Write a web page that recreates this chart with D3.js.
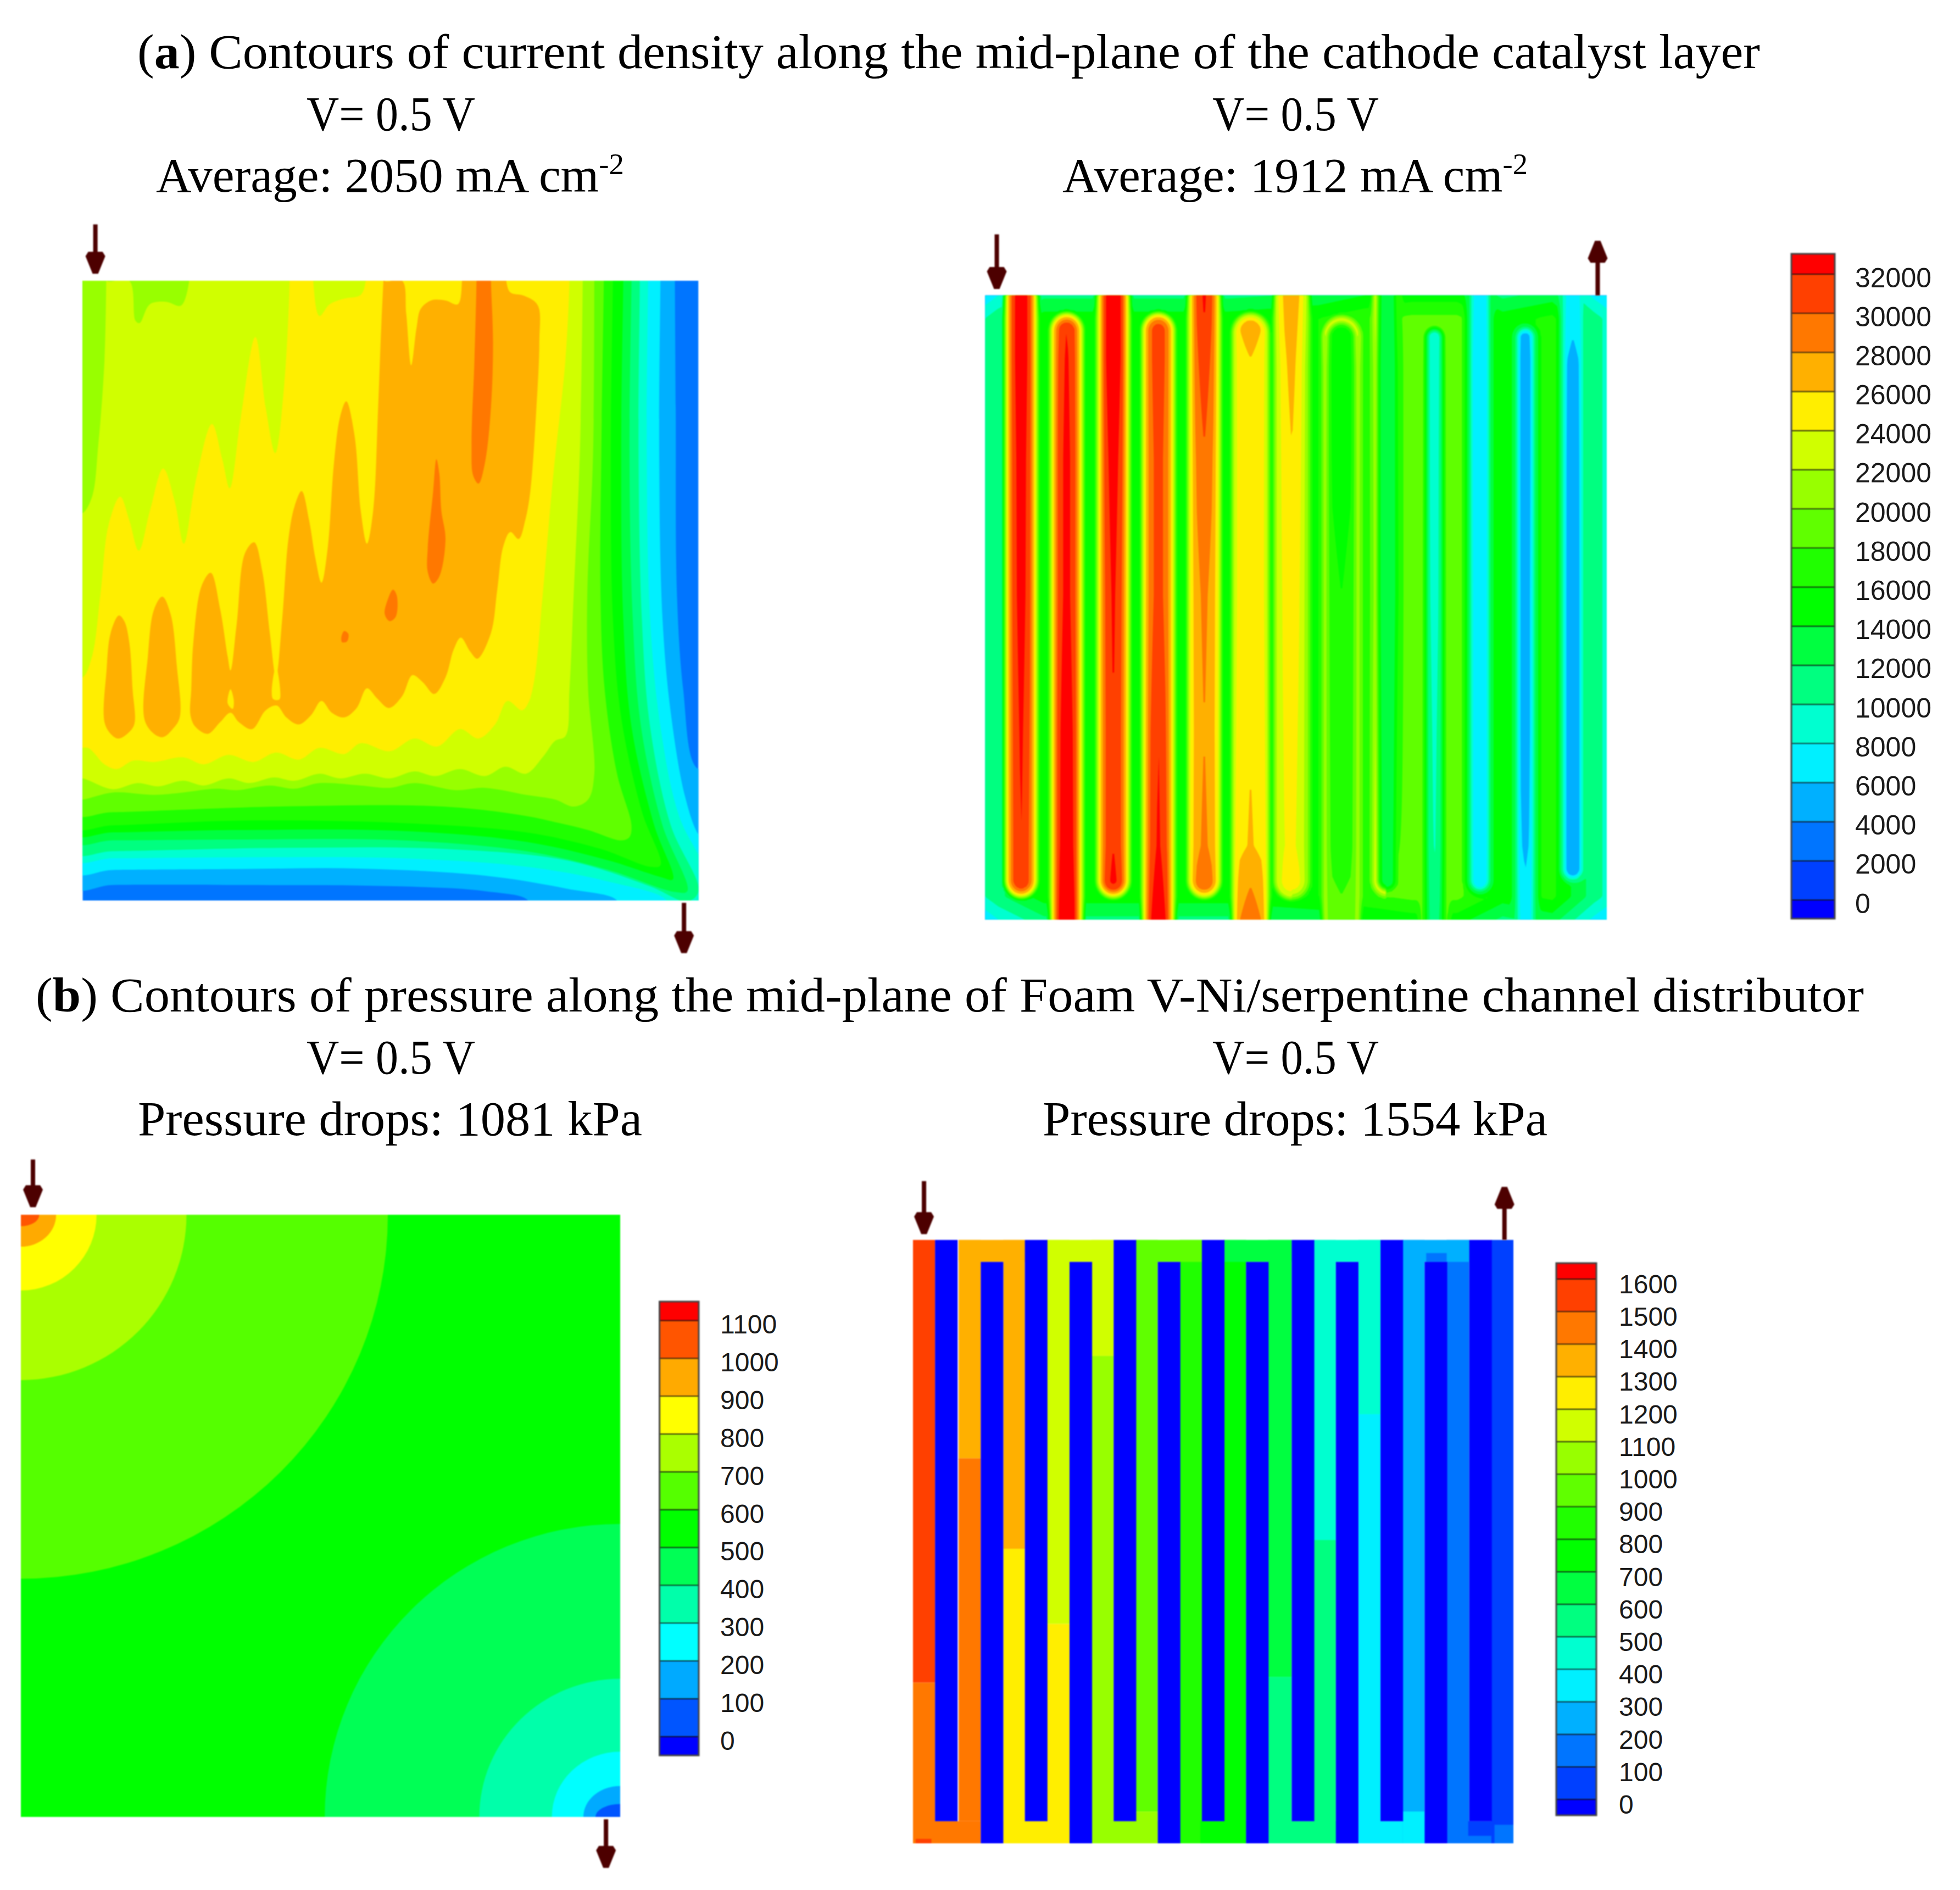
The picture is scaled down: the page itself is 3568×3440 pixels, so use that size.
<!DOCTYPE html>
<html lang="en">
  <head>
    <meta charset="UTF-8" />
    <title>Contours of current density and pressure</title>
    <script src="https://cdn.jsdelivr.net/npm/d3@7"></script>
    <style>
      html, body { margin: 0; background: #fff; }
      svg { display: block; }
      .soft { filter: blur(1px); }
    </style>
  </head>

  <body>
    <div id="chart"></div>

    <script>
      // ---- legend levels ----
      const currentTicks = [0, 2000, 4000, 6000, 8000, 10000, 12000, 14000, 16000, 18000, 20000, 22000, 24000, 26000, 28000, 30000, 32000];
      const wideTicks = [0, 100, 200, 300, 400, 500, 600, 700, 800, 900, 1000, 1100, 1200, 1300, 1400, 1500, 1600];
      const foamTicks = [0, 100, 200, 300, 400, 500, 600, 700, 800, 900, 1000, 1100];
      const rainbow18 = ["#0000ff", "#0040ff", "#0075ff", "#00b0ff", "#00f0ff", "#00ffd0", "#00ff80", "#00ff40", "#00ff00", "#20ff00", "#60ff00", "#98ff00", "#d0ff00", "#ffee00", "#ffb000", "#ff7800", "#ff4000", "#ff0000"];
      const rainbow13 = ["#0000ff", "#0055ff", "#00aaff", "#00ffff", "#00ffaa", "#00ff55", "#00ff00", "#55ff00", "#aaff00", "#ffff00", "#ffaa00", "#ff5500", "#ff0000"];

      // ---- (a) foam, left: iso-lines, x/y in digitiser units ----
      const foamRegionLevels = [4000, 6000, 8000, 10000, 12000, 14000, 16000, 18000, 20000, 22000, 24000, 26000, 26000, 26000, 24000, 24000, 28000, 28000, 28000, 28000];
      const foamRegionLines = [
        [[0,100],[1460,100],[1460,130],[1462,400],[1465,800],[1480,1000],[1510,1165],[1550,1180],[1550,1480],[1105,1480],[1105,1450],[1000,1430],[800,1420],[400,1417],[100,1417],[0,1420]],
        [[0,100],[1425,100],[1425,130],[1422,500],[1430,850],[1450,1050],[1485,1230],[1517,1310],[1550,1340],[1550,1480],[1320,1480],[1320,1450],[1200,1425],[1000,1397],[700,1382],[400,1383],[100,1385],[0,1387]],
        [[0,100],[1395,100],[1395,130],[1392,500],[1400,850],[1425,1080],[1470,1270],[1540,1400],[1540,1480],[1440,1480],[1440,1450],[1300,1410],[1100,1378],[800,1360],[400,1358],[100,1360],[0,1360]],
        [[0,100],[1375,100],[1375,130],[1372,500],[1380,850],[1400,1080],[1450,1290],[1517,1430],[1490,1452],[1400,1420],[1200,1365],[900,1340],[500,1338],[100,1345],[0,1345]],
        [[0,100],[1355,100],[1355,130],[1350,500],[1358,850],[1378,1080],[1430,1290],[1490,1430],[1460,1432],[1300,1385],[1100,1345],[800,1322],[400,1320],[100,1322],[0,1322]],
        [[0,100],[1335,100],[1335,130],[1330,500],[1335,850],[1355,1080],[1410,1290],[1455,1405],[1425,1400],[1300,1365],[1100,1325],[800,1302],[400,1300],[100,1305],[0,1305]],
        [[0,100],[1310,100],[1310,130],[1305,500],[1310,850],[1330,1060],[1380,1260],[1425,1375],[1400,1378],[1280,1340],[1100,1305],[800,1285],[400,1280],[100,1290],[0,1290]],
        [[0,100],[1288,100],[1288,130],[1282,500],[1280,800],[1290,1000],[1320,1180],[1355,1290],[1350,1315],[1330,1322],[1250,1300],[1180,1285],[1100,1270],[900,1250],[500,1250],[100,1262],[0,1262]],
        [[0,100],[1265,100],[1265,130],[1262,500],[1248,800],[1250,1000],[1265,1180],[1250,1235],[1215,1250],[1170,1235],[1100,1225],[1000,1210],[930,1215],[830,1200],[770,1210],[700,1205],[600,1200],[540,1212],[480,1205],[400,1215],[350,1212],[270,1220],[200,1225],[100,1220],[27,1235],[0,1235]],
        [[85,100],[85,130],[140,130],[155,215],[165,220],[190,180],[230,175],[265,183],[285,130],[285,100],[1237,100],[1237,130],[1230,500],[1215,800],[1205,1000],[1195,1100],[1170,1110],[1140,1145],[1100,1180],[1050,1165],[1000,1185],[940,1170],[880,1185],[830,1175],[770,1190],[710,1180],[650,1190],[600,1180],[540,1195],[490,1188],[430,1200],[380,1190],[320,1205],[270,1195],[210,1207],[160,1200],[100,1213],[27,1190],[0,1190],[0,625],[27,625],[50,590],[65,480],[80,300]],
        [[0,975],[27,975],[50,930],[70,800],[90,650],[118,590],[140,640],[163,705],[190,620],[222,530],[250,600],[272,690],[300,560],[340,435],[365,510],[383,572],[410,420],[445,250],[470,400],[493,497],[515,350],[528,130],[528,100],[585,100],[585,130],[600,205],[625,180],[660,168],[700,160],[712,130],[712,100],[1205,100],[1205,130],[1195,300],[1165,550],[1140,800],[1120,980],[1105,1030],[1090,1045],[1055,1025],[1025,1075],[985,1105],[940,1085],[885,1122],[830,1105],[770,1132],[700,1115],[660,1138],[600,1125],[550,1150],[495,1135],[440,1155],[380,1140],[320,1160],[270,1145],[200,1155],[150,1152],[110,1170],[80,1160],[40,1125],[0,1125]],
        [[115,843],[95,880],[85,960],[80,1070],[95,1095],[113,1105],[135,1095],[152,1075],[148,1000],[140,900],[128,855]],
        [[220,803],[200,830],[185,930],[177,1065],[200,1095],[222,1102],[245,1085],[262,1060],[255,950],[240,840]],
        [[757,100],[757,130],[800,130],[810,200],[822,310],[835,230],[845,190],[870,172],[905,172],[935,180],[945,130],[945,100],[1052,100],[1052,130],[1062,155],[1095,162],[1128,182],[1132,260],[1125,400],[1110,580],[1098,640],[1082,680],[1062,665],[1045,695],[1030,790],[1015,880],[982,935],[965,920],[942,890],[925,915],[905,975],[878,1010],[850,985],[825,970],[800,1015],[768,1040],[740,1020],[715,998],[690,1040],[660,1060],[630,1050],[605,1025],[580,1055],[550,1075],[520,1060],[497,1035],[470,1045],[437,1085],[405,1070],[385,1050],[360,1070],[330,1095],[300,1080],[288,1055],[290,1000],[295,900],[315,780],[337,752],[360,830],[378,930],[385,960],[400,860],[420,710],[442,687],[462,750],[480,880],[495,975],[510,850],[525,680],[540,610],[557,578],[575,640],[590,720],[605,773],[620,700],[635,520],[650,420],[665,387],[685,460],[700,620],[715,690],[730,620],[742,400],[750,220]],
        [[385,1000],[378,1030],[390,1042],[393,1025]],
        [[495,950],[487,1020],[503,1022],[505,1000]],
        [[980,100],[1015,100],[1015,130],[1020,260],[1015,400],[1000,520],[985,562],[972,545],[968,480],[975,300],[980,130]],
        [[883,510],[875,580],[862,700],[862,750],[875,775],[890,760],[905,680],[895,620],[890,540]],
        [[778,788],[765,810],[758,840],[770,855],[785,845],[787,800]],
        [[660,876],[653,890],[655,900],[667,898],[670,882]],
      ];
      const foamCurrentBase = 3000;

      // ---- (a) serpentine, right: current along each rib/channel stripe ----
      const stripeCentre = [105, 215, 328, 437, 548, 660, 760, 880, 990, 1105, 1215, 1325, 1440];
      const stripeEnd = [1425, 220, 1425, 220, 1425, 225, 1425, 235, 1425, 235, 1425, 235, 1400];
      const coreStations = [142, 280, 500, 800, 1100, 1350, 1512];
      const stripeCore = [
        [34000, 34000, 33500, 33300, 32500, 32000, 32000],
        [31500, 32500, 33000, 33000, 34000, 34200, 35000],
        [34500, 34500, 33500, 32500, 32000, 32000, 34000],
        [31500, 31500, 31000, 31000, 32000, 32500, 34500],
        [32500, 31500, 29800, 28500, 28000, 28500, 31500],
        [28500, 26000, 25700, 25700, 25900, 26200, 29500],
        [27500, 26800, 25900, 25200, 24800, 24500, 26500],
        [15000, 14800, 15000, 16000, 16500, 17000, 18500],
        [12500, 12000, 12000, 12000, 12500, 13000, 13000],
        [8000, 8500, 8800, 9000, 9500, 9800, 11000],
        [7000, 6300, 6300, 6500, 6500, 6500, 7000],
        [6000, 4800, 4800, 5000, 5000, 5500, 7000],
        [7000, 5500, 4800, 4500, 4500, 4500, 5000],
      ];
      const ringStations = [142, 300, 800, 1512];
      const stripeRing = [
        [25000, 25000, 25000, 25000],
        [25000, 25000, 25000, 25000],
        [25000, 25000, 25000, 25000],
        [25000, 25000, 25000, 25000],
        [24500, 24500, 24500, 24500],
        [23000, 23000, 23000, 24000],
        [23500, 22500, 22500, 22500],
        [24500, 21500, 21000, 21000],
        [23000, 21500, 21000, 23500],
        [20500, 19500, 19000, 18500],
        [13000, 13000, 13000, 13000],
        [12000, 12000, 12000, 12000],
        [10000, 10000, 10000, 10000],
      ];
      // the ring on the right of a stripe is weaker than on its left for these
      const ringRightDrop = [0, 0, 0, 0, 0, 0, 1500, 0, 5000, 0, 0, 0, 0];
      const stripeCoreHalf = [20, 20, 20, 20, 20, 28, 20, 24, 14, 12, 15, 12, 14];
      const stripeRingHalf = [33, 33, 33, 33, 33, 38, 36, 40, 28, 30, 28, 24, 24];
      const gapX = [18, 50, 160, 270, 380, 490, 605, 715, 825, 935, 1050, 1160, 1270, 1390, 1490, 1522];
      const gapCurrent = [10000, 11500, 15000, 15000, 15000, 15000, 15000, 15500, 16000, 17500, 18500, 18500, 15000, 16500, 11000, 9500];
      const endWallDrop = [3500, 0];

      // ---- (b) foam, left: iso-pressure arcs around inlet and outlet corners ----
      const inletPressure = [650, 750, 850, 950, 1050];
      const inletReachX = [698, 315, 144, 67, 35];
      const inletReachY = [764, 347, 159, 67, 24];
      const outletPressure = [450, 350, 250, 150, 50];
      const outletReachX = [562, 268, 130, 70, 47];
      const outletReachY = [615, 290, 137, 65, 27];
      const foamPressureBase = 550;

      // ---- (b) serpentine, right: ribs and channel pressure ----
      const ribTopX = [65, 236, 405, 573, 744, 913, 1082];
      const ribBottomX = [152, 321, 489, 657, 828, 997];
      const ribWidth = 43;
      const ribPressure = -10;
      // [x0, x1, y0, y1, kPa], later cells paint over earlier ones
      const channelCells = [
        [23, 65, 145, 1148, 1550], [23, 65, 1148, 1512, 1450], [23, 152, 1462, 1512, 1450], [28, 58, 1502, 1512, 1550],
        [110, 152, 145, 640, 1350], [110, 152, 640, 1462, 1450], [110, 236, 145, 195, 1350],
        [195, 236, 145, 845, 1350], [195, 236, 845, 1512, 1250], [195, 321, 1462, 1512, 1250],
        [278, 321, 145, 1015, 1150], [278, 321, 1015, 1512, 1250], [278, 405, 145, 195, 1150],
        [363, 405, 145, 408, 1150], [363, 405, 408, 1512, 1050], [363, 489, 1462, 1512, 1050],
        [447, 489, 145, 1440, 950], [447, 489, 1440, 1512, 1050],
        [531, 573, 145, 1512, 850], [447, 573, 145, 195, 950], [531, 657, 1462, 1512, 850], [570, 657, 1462, 1512, 750],
        [615, 657, 145, 1512, 750], [615, 744, 145, 195, 650],
        [699, 744, 145, 1135, 650], [699, 744, 1135, 1512, 550], [699, 828, 1462, 1512, 550],
        [786, 828, 145, 825, 450], [786, 828, 825, 1512, 550], [786, 913, 145, 195, 450],
        [871, 913, 145, 540, 450], [871, 913, 540, 1512, 350], [871, 997, 1462, 1512, 350],
        [955, 997, 145, 1512, 250], [955, 997, 1440, 1512, 350],
        [1039, 1082, 145, 1512, 150], [955, 1082, 145, 195, 250], [1000, 1039, 175, 195, 150],
        [1039, 1166, 1462, 1512, 150], [1080, 1124, 1462, 1495, 50],
        [1124, 1166, 145, 1512, 50], [1130, 1166, 1470, 1512, 150],
      ];

      const width = 3568,
        height = 3440;

      const svg = d3
        .select("#chart")
        .append("svg")
        .attr("width", width)
        .attr("height", height);

      const serif = "'Liberation Serif', serif";

      // text squeezed onto the span it has in the figure
      function heading(parts, x0, x1, baseline) {
        const t = svg
          .append("text")
          .attr("x", x0)
          .attr("y", baseline)
          .attr("textLength", x1 - x0)
          .attr("lengthAdjust", "spacingAndGlyphs")
          .attr("font-family", serif)
          .attr("font-size", 88)
          .attr("fill", "#000");
        parts.forEach((p) => {
          const s = t.append("tspan").text(p.text);
          if (p.bold) s.attr("font-weight", "bold");
          if (p.sup) s.attr("font-size", 54).attr("dy", -32);
        });
      }

      heading([{ text: "(" }, { text: "a", bold: true }, { text: ") Contours of current density along the mid-plane of the cathode catalyst layer" }], 250, 3204, 124);
      heading([{ text: "V= 0.5 V" }], 558, 865, 237);
      heading([{ text: "Average: 2050 mA cm" }, { text: "-2", sup: true }], 284, 1136, 349);
      heading([{ text: "V= 0.5 V" }], 2207, 2510, 237);
      heading([{ text: "Average: 1912 mA cm" }, { text: "-2", sup: true }], 1934, 2781, 349);

      heading([{ text: "(" }, { text: "b", bold: true }, { text: ") Contours of pressure along the mid-plane of Foam V-Ni/serpentine channel distributor" }], 65, 3393, 1841);
      heading([{ text: "V= 0.5 V" }], 558, 865, 1954);
      heading([{ text: "Pressure drops: 1081 kPa" }], 251, 1169, 2066);
      heading([{ text: "V= 0.5 V" }], 2207, 2510, 1954);
      heading([{ text: "Pressure drops: 1554 kPa" }], 1898, 2817, 2066);

      const currentColor = d3.scaleThreshold().domain(currentTicks).range(rainbow18);
      const wideColor = d3.scaleThreshold().domain(wideTicks).range(rainbow18);
      const foamColor = d3.scaleThreshold().domain(foamTicks).range(rainbow13);

      // a clipped, slightly softened plot area
      function plotArea(id, x, y) {
        const [x0, x1] = x.range();
        const [y0, y1] = y.range();
        svg
          .append("clipPath")
          .attr("id", id)
          .append("rect")
          .attr("x", x0)
          .attr("y", y0)
          .attr("width", x1 - x0)
          .attr("height", y1 - y0);
        return svg
          .append("g")
          .attr("class", "soft")
          .append("g")
          .attr("clip-path", "url(#" + id + ")");
      }

      function arrow(x, y, xPos, yFrom, yTo) {
        const xp = x(xPos),
          from = y(yFrom),
          to = y(yTo),
          dir = to > from ? 1 : -1;
        const g = svg.append("g").attr("fill", "#4d0000").attr("class", "soft");
        g.append("rect")
          .attr("x", xp - 4)
          .attr("y", Math.min(from, to - dir * 30))
          .attr("width", 8)
          .attr("height", Math.abs(to - dir * 30 - from));
        g.append("path").attr(
          "d",
          d3.line()([
            [xp - 5, to],
            [xp + 5, to],
            [xp + 18, to - dir * 32],
            [xp + 13, to - dir * 40],
            [xp - 13, to - dir * 40],
            [xp - 18, to - dir * 32],
          ]) + "Z"
        );
      }

      // ---------------- (a) left ----------------
      {
        const x = d3.scaleLinear().domain([27, 1517]).range([150.3, 1271.5]);
        const y = d3.scaleLinear().domain([130, 1450]).range([511, 1639]);
        const g = plotArea("clipAL", x, y);
        g.append("rect")
          .attr("x", x(27))
          .attr("y", y(130))
          .attr("width", x(1517) - x(27))
          .attr("height", y(1450) - y(130))
          .attr("fill", currentColor(foamCurrentBase));
        const line = d3
          .line()
          .x((d) => x(d[0]))
          .y((d) => y(d[1]))
          .curve(d3.curveCatmullRomClosed.alpha(0.5));
        g.selectAll("path")
          .data(foamRegionLines)
          .enter()
          .append("path")
          .attr("d", line)
          .attr("fill", (d, i) => currentColor(foamRegionLevels[i]));
        arrow(x, y, 58, 10, 115);
        arrow(x, y, 1482, 1455, 1562);
      }

      // ---------------- (a) right ----------------
      {
        const x = d3.scaleLinear().domain([18, 1522]).range([1793.5, 2925]);
        const y = d3.scaleLinear().domain([142, 1512]).range([537.7, 1673.7]);
        const g = plotArea("clipAR", x, y);

        const nx = 377,
          ny = 343;
        const sx = d3.scaleLinear().domain([0, nx - 1]).range([18, 1522]);
        const sy = d3.scaleLinear().domain([0, ny - 1]).range([142, 1512]);
        const coreAt = stripeCore.map((c) => d3.scaleLinear().domain(coreStations).range(c).clamp(true));
        const ringAt = stripeRing.map((c) => d3.scaleLinear().domain(ringStations).range(c).clamp(true));
        const gapAt = d3.scaleLinear().domain(gapX).range(gapCurrent);
        const wallDrop = d3.scaleLinear().domain([0, 50]).range(endWallDrop).clamp(true);

        const values = new Float64Array(nx * ny);
        for (let j = 0; j < ny; j++) {
          const py = sy(j);
          const drop = wallDrop(Math.min(py - 142, 1512 - py));
          for (let i = 0; i < nx; i++) {
            const px = sx(i);
            let best = 0,
              bestD = Infinity;
            stripeCentre.forEach((c, k) => {
              // even stripes run in from the top wall, odd ones from the bottom wall
              const yA = k % 2 === 0 ? -400 : stripeEnd[k];
              const yB = k % 2 === 0 ? stripeEnd[k] : 2000;
              const dy = py - Math.max(yA, Math.min(yB, py));
              const d = Math.hypot(px - c, dy);
              if (d < bestD) {
                bestD = d;
                best = k;
              }
            });
            const core = coreAt[best](py),
              ring = ringAt[best](py) - (px > stripeCentre[best] ? ringRightDrop[best] : 0),
              gap = gapAt(px) - drop,
              a = stripeCoreHalf[best],
              b = stripeRingHalf[best],
              c = b + 14,
              taper = core > ring ? 0.3 : 0.12,
              edge = core + (ring - core) * taper;
            let v;
            if (bestD <= a) v = core + ((edge - core) * bestD) / a;
            else if (bestD <= b) v = edge + ((ring - edge) * (bestD - a)) / (b - a);
            else if (bestD <= c) v = ring + ((gap - ring) * (bestD - b)) / (c - b);
            else v = gap;
            values[j * nx + i] = v;
          }
        }

        const gx = d3.scaleLinear().domain([0.5, nx - 0.5]).range(x.range());
        const gy = d3.scaleLinear().domain([0.5, ny - 0.5]).range(y.range());
        const path = d3.geoPath(
          d3.geoTransform({
            point: function (a, b) {
              this.stream.point(gx(a), gy(b));
            },
          })
        );
        const bands = d3.contours().size([nx, ny]).thresholds(currentTicks)(values);
        g.append("rect")
          .attr("x", x(18))
          .attr("y", y(142))
          .attr("width", x(1522) - x(18))
          .attr("height", y(1512) - y(142))
          .attr("fill", currentColor(foamCurrentBase));
        g.selectAll("path")
          .data(bands)
          .enter()
          .append("path")
          .attr("d", path)
          .attr("fill", (d) => currentColor(d.value));
        arrow(x, y, 46, 8, 128);
        arrow(x, y, 1500, 142, 22);
      }

      // ---------------- (b) left ----------------
      {
        const x = d3.scaleLinear().domain([40, 1180]).range([38, 1129]);
        const y = d3.scaleLinear().domain([151, 1415]).range([2211, 3307]);
        const g = plotArea("clipBL", x, y);
        g.append("rect")
          .attr("x", x(40))
          .attr("y", y(151))
          .attr("width", x(1180) - x(40))
          .attr("height", y(1415) - y(151))
          .attr("fill", foamColor(foamPressureBase));
        inletPressure.forEach((p, i) => {
          g.append("ellipse")
            .attr("cx", x(40))
            .attr("cy", y(151))
            .attr("rx", x(40 + inletReachX[i]) - x(40))
            .attr("ry", y(151 + inletReachY[i]) - y(151))
            .attr("fill", foamColor(p));
        });
        outletPressure.forEach((p, i) => {
          g.append("ellipse")
            .attr("cx", x(1180))
            .attr("cy", y(1415))
            .attr("rx", x(40 + outletReachX[i]) - x(40))
            .attr("ry", y(151 + outletReachY[i]) - y(151))
            .attr("fill", foamColor(p));
        });
        arrow(x, y, 63, 35, 135);
        arrow(x, y, 1153, 1420, 1522);
      }

      // ---------------- (b) right ----------------
      {
        const x = d3.scaleLinear().domain([23, 1166]).range([1662, 2755]);
        const y = d3.scaleLinear().domain([145, 1512]).range([2256.6, 3355]);
        const g = plotArea("clipBR", x, y);
        g.selectAll(".cell")
          .data(channelCells)
          .enter()
          .append("rect")
          .attr("class", "cell")
          .attr("x", (d) => x(d[0]))
          .attr("y", (d) => y(d[2]))
          .attr("width", (d) => x(d[1]) - x(d[0]))
          .attr("height", (d) => y(d[3]) - y(d[2]))
          .attr("fill", (d) => wideColor(d[4]));
        g.selectAll(".ribTop")
          .data(ribTopX)
          .enter()
          .append("rect")
          .attr("class", "ribTop")
          .attr("x", (d) => x(d))
          .attr("y", y(145))
          .attr("width", (d) => x(d + ribWidth) - x(d))
          .attr("height", y(1462) - y(145))
          .attr("fill", wideColor(ribPressure));
        g.selectAll(".ribBottom")
          .data(ribBottomX)
          .enter()
          .append("rect")
          .attr("class", "ribBottom")
          .attr("x", (d) => x(d))
          .attr("y", y(195))
          .attr("width", (d) => x(d + ribWidth) - x(d))
          .attr("height", y(1512) - y(195))
          .attr("fill", wideColor(ribPressure));
        arrow(x, y, 44, 12, 132);
        arrow(x, y, 1149, 145, 25);
      }

      // ---------------- colour bars ----------------
      function colourBar(ticks, colors, x0, x1, yTop, yBottom, y0, yMax, labelX, labelDy, fontSize) {
        const y = d3.scaleLinear().domain([ticks[0], ticks[ticks.length - 1]]).range([y0, yMax]);
        const edges = [yBottom].concat(ticks.map((t) => y(t)), [yTop]);
        const g = svg.append("g").attr("class", "soft");
        g.selectAll("rect")
          .data(colors)
          .enter()
          .append("rect")
          .attr("x", x0)
          .attr("width", x1 - x0)
          .attr("y", (d, i) => edges[i + 1])
          .attr("height", (d, i) => edges[i] - edges[i + 1])
          .attr("fill", (d) => d)
          .attr("stroke", "#111")
          .attr("stroke-width", 1.5);
        g.append("rect")
          .attr("x", x0)
          .attr("y", yTop)
          .attr("width", x1 - x0)
          .attr("height", yBottom - yTop)
          .attr("fill", "none")
          .attr("stroke", "#444")
          .attr("stroke-width", 3);
        const axis = d3
          .axisRight(y)
          .tickValues(ticks)
          .tickSize(0)
          .tickPadding(labelX - x1)
          .tickFormat(d3.format("d"));
        const ag = svg
          .append("g")
          .attr("transform", "translate(" + x1 + "," + labelDy + ")")
          .call(axis);
        ag.select(".domain").remove();
        ag.selectAll("text")
          .attr("font-family", "'Liberation Sans', Arial, sans-serif")
          .attr("font-size", fontSize)
          .attr("fill", "#1a1a1a");
      }

      colourBar(currentTicks, rainbow18, 3261, 3340, 462, 1672, 1638, 499, 3377, 7, 50);
      colourBar(foamTicks, rainbow13, 1200.6, 1272, 2369, 3195, 3160.7, 2403.5, 1311, 8, 48);
      colourBar(wideTicks, rainbow18, 2833, 2906, 2299, 3304, 3275, 2328, 2947, 10, 48);
    </script>
  </body>
</html>
